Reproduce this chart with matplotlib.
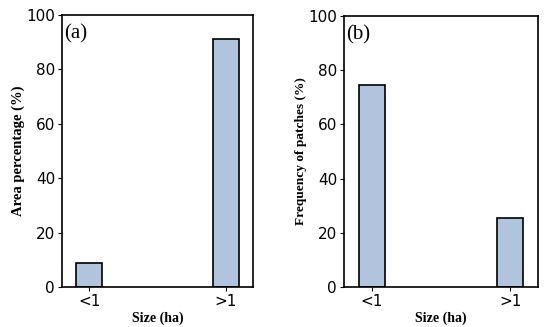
import matplotlib
matplotlib.use('Agg')
import matplotlib.pyplot as plt

categories = ['<1', '>1']
area_pct = [8.7, 91.3]
freq_pct = [74.5, 25.5]
panel_labels = ['(a)', '(b)']
ylabels = ['Area percentage (%)', 'Frequency of patches (%)']
xlabel = 'Size (ha)'

serif = 'Liberation Serif'

fig = plt.figure(figsize=(5.5, 3.27), dpi=100)
boxes = [[62 / 550, 1 - 287 / 327, 191 / 550, 272 / 327],
         [344 / 550, 1 - 287 / 327, 194 / 550, 271 / 327]]
ylab_sizes = [10.5, 9.6]

for box, vals, lab, ylab, ys in zip(boxes, [area_pct, freq_pct], panel_labels,
                                    ylabels, ylab_sizes):
    ax = fig.add_axes(box)
    x = range(len(categories))
    ax.bar(x, vals, width=0.19, color='lightsteelblue', edgecolor='black', linewidth=1.2)
    ax.set_xticks(list(x))
    ax.set_xticklabels(categories)
    ax.set_xlim(-0.2, 1.2)
    ax.set_ylim(0, 100)
    ax.set_yticks([0, 20, 40, 60, 80, 100])
    ax.tick_params(labelsize=11, length=3, pad=2)
    for s in ax.spines.values():
        s.set_linewidth(1.2)
    ax.set_xlabel(xlabel, fontfamily=serif, fontweight='bold', fontsize=10, labelpad=2)
    ax.set_ylabel(ylab, fontfamily=serif, fontweight='bold', fontsize=ys, labelpad=1)
    ax.text(0.01, 0.965, lab, transform=ax.transAxes, fontfamily=serif,
            fontsize=15, va='top', ha='left')

fig.savefig('out.png', dpi=100)
